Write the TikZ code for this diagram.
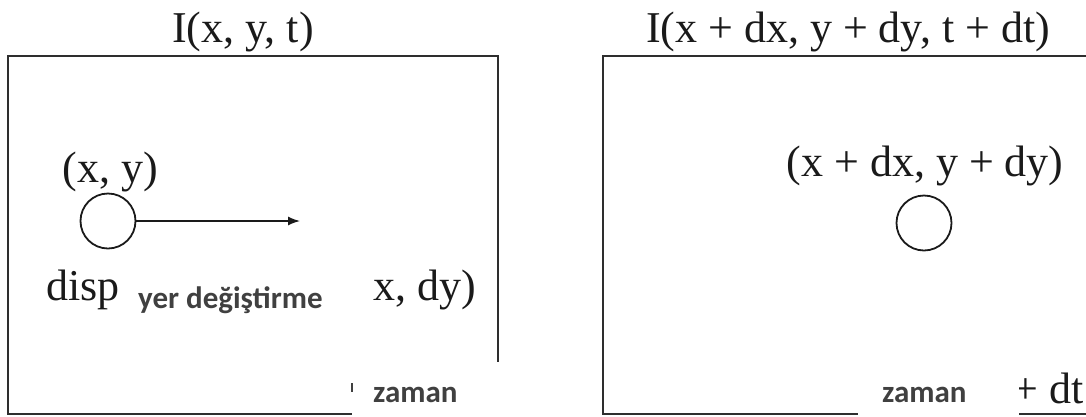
\documentclass[tikz,border=0pt]{standalone}
\usepackage{fontspec}
\setmainfont{Liberation Serif}
\newfontfamily\notefont{Carlito}
\usetikzlibrary{arrows.meta}
\definecolor{framegray}{HTML}{2E2E2E}
\definecolor{inkblack}{HTML}{1A1A1A}
\definecolor{notegray}{HTML}{404040}

\begin{document}
\begin{tikzpicture}[x=1pt,y=-1pt,
  frame/.style={draw=framegray,line width=2.8pt},
  serif/.style={text=inkblack,font=\fontsize{44}{50}\selectfont,inner sep=0pt},
  note/.style={text=notegray,font=\notefont\bfseries\fontsize{31}{36}\selectfont,inner sep=0pt},
  patch/.style={fill=white,draw=none},
  dot/.style={draw=inkblack,circle,line width=1.8pt,minimum size=55pt,inner sep=0pt},
  arrow/.style={-{Latex[length=12pt,width=9pt]},line width=1.4pt,draw=inkblack}]
\useasboundingbox (0,0) rectangle (1086,416);
\clip (0,0) rectangle (1086,416);
% frame at time t
\draw[frame] (8,56) rectangle (498,414);
\node[serif,anchor=base] (titleL) at (243,42) {I(x, y, t)};
\node[serif,anchor=base] (posL) at (110,182) {(x, y)};
\node[dot] (dotL) at (108,221) {};
\coordinate (tipL) at (300,221);
\draw[arrow] (dotL.east) -- (tipL);
\node[serif,anchor=base west] (dispL) at (46,300) {disp};
\node[serif,anchor=base west] (dispR) at (373,300) {x, dy)};
\node[note,anchor=base west] (shift) at (138,308) {yer değiştirme};
% frame at time t + dt
\draw[frame] (603,56) rectangle (1100,414);
\node[serif,anchor=base] (titleR) at (848,42) {I(x + dx, y + dy, t + dt)};
\node[serif,anchor=base] (posR) at (925,176) {(x + dx, y + dy)};
\node[dot] (dotR) at (924,223) {};
\node[serif,anchor=base east] (dtR) at (1084,403) {+ dt};
% pasted captions
\fill[patch] (352,362) rectangle (570,416);
\fill[patch] (858,368) rectangle (1019,416);
\draw[notegray,line width=1.5pt] (352,383) -- (352,392);
\node[note,anchor=base west] (timeL) at (373,402) {zaman};
\node[note,anchor=base west] (timeR) at (882,402) {zaman};
\end{tikzpicture}
\end{document}
